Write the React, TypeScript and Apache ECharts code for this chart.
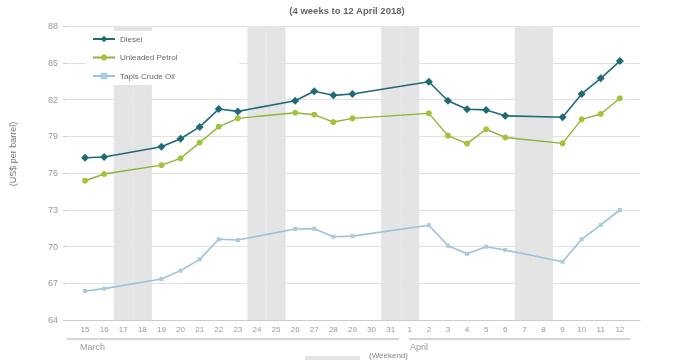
import React, { useEffect, useRef } from "react";
import * as echarts from "echarts";

const days = ["15","16","17","18","19","20","21","22","23","24","25","26","27","28","29","30","31","1","2","3","4","5","6","7","8","9","10","11","12"];
const weekendDays = ["17","18","24","25","31","1","7","8"];
const yTicks = [64, 67, 70, 73, 76, 79, 82, 85, 88];

const diesel = [77.25,77.3,null,null,78.15,78.8,79.76,81.22,81.03,null,null,81.9,82.67,82.34,82.45,null,null,null,83.45,81.9,81.2,81.15,80.67,null,null,80.55,82.45,83.73,85.14];
const unleaded = [75.37,75.92,null,null,76.64,77.2,78.48,79.78,80.46,null,null,80.92,80.76,80.16,80.46,null,null,null,80.87,79.05,78.4,79.57,78.9,null,null,78.42,80.38,80.82,82.1];
const tapis = [66.37,66.56,null,null,67.35,68.03,68.95,70.59,70.53,null,null,71.43,71.45,70.8,70.85,null,null,null,71.73,70.07,69.41,69.98,69.71,null,null,68.76,70.59,71.76,72.98];

const seriesNames = ["Diesel", "Unleaded Petrol", "Tapis Crude Oil"];
const title = "(4 weeks to 12 April 2018)";
const yAxisName = "(US$ per barrel)";
const months = ["March", "April"];

export default function App() {
  const ref = useRef<HTMLDivElement>(null);
  useEffect(() => {
    if (!ref.current) return;
    const chart = echarts.init(ref.current, null, { renderer: "svg" });
    const yMin = yTicks[0];
    const yMax = yTicks[yTicks.length - 1];
    const font = "Liberation Sans, Arial, sans-serif";
    const weekendData = days.map((d) => (weekendDays.includes(d) ? yMax : null));
    chart.setOption({
      animation: false,
      textStyle: { fontFamily: font },
      grid: [
        { left: 67, right: 45, top: 26, bottom: 40 },
        { left: 75.5, right: 55.6, top: 26, bottom: 40 },
      ],
      xAxis: [
        {
          gridIndex: 0, type: "value", min: 0, max: 1,
          axisLine: { show: true, lineStyle: { color: "#cccccc", width: 1 } },
          axisTick: { show: false }, axisLabel: { show: false }, splitLine: { show: false },
        },
        {
          gridIndex: 1, type: "category", data: days, boundaryGap: true,
          axisLine: { show: false }, axisTick: { show: false },
          axisLabel: { color: "#999999", fontSize: 8, margin: 5, interval: 0, fontFamily: font },
        },
      ],
      yAxis: [
        {
          gridIndex: 0, type: "value", min: yMin, max: yMax, interval: 3,
          axisLine: { show: false },
          axisTick: { show: true, length: 4, lineStyle: { color: "#cccccc" } },
          axisLabel: { color: "#999999", fontSize: 9, margin: 9, fontFamily: font },
          splitLine: { show: true, lineStyle: { color: "#e0e0e0", width: 1 } },
        },
        {
          gridIndex: 1, type: "value", min: yMin, max: yMax, interval: 3,
          show: false, splitLine: { show: false },
        },
      ],
      legend: {
        data: seriesNames,
        orient: "vertical", left: 86, top: 31,
        itemGap: 8.5, itemWidth: 22, itemHeight: 8,
        backgroundColor: "#ffffff",
        padding: [3, 62, 4, 6],
        textStyle: { fontSize: 8, color: "#666666", fontFamily: font, lineHeight: 10 },
      },
      series: [
        {
          name: "Weekend", type: "bar", xAxisIndex: 1, yAxisIndex: 1,
          data: weekendData, barWidth: "100%", barCategoryGap: "0%", clip: true,
          itemStyle: { color: "#e4e4e4" }, silent: true, z: 0,
        },
        {
          name: seriesNames[0], type: "line", xAxisIndex: 1, yAxisIndex: 1, data: diesel,
          connectNulls: true, symbol: "diamond", symbolSize: 8, showSymbol: true,
          lineStyle: { color: "#1e6b76", width: 1.6 }, itemStyle: { color: "#1e6b76" }, z: 5,
        },
        {
          name: seriesNames[1], type: "line", xAxisIndex: 1, yAxisIndex: 1, data: unleaded,
          connectNulls: true, symbol: "circle", symbolSize: 6, showSymbol: true,
          lineStyle: { color: "#8fb33a", width: 1.4 }, itemStyle: { color: "#a2c43a" }, z: 4,
        },
        {
          name: seriesNames[2], type: "line", xAxisIndex: 1, yAxisIndex: 1, data: tapis,
          connectNulls: true, symbol: "rect", symbolSize: 4, showSymbol: true,
          lineStyle: { color: "#9dc2d6", width: 1.6 }, itemStyle: { color: "#a9cbdd" }, z: 3,
        },
      ],
      graphic: [
        {
          type: "text", x: 347, y: 10,
          style: { text: title, fill: "#666666", font: `bold 9.5px ${font}`, align: "center", verticalAlign: "middle" },
        },
        {
          type: "text", x: 13, y: 154, rotation: Math.PI / 2,
          style: { text: yAxisName, fill: "#777777", font: `9px ${font}`, align: "center", verticalAlign: "middle" },
        },
        { type: "line", shape: { x1: 67, y1: 339, x2: 399, y2: 339 }, style: { stroke: "#aaaaaa", lineWidth: 1 } },
        { type: "line", shape: { x1: 409, y1: 339, x2: 630, y2: 339 }, style: { stroke: "#aaaaaa", lineWidth: 1 } },
        { type: "text", x: 80, y: 342, style: { text: months[0], fontSize: 9, fill: "#999999", fontFamily: font } },
        { type: "text", x: 410, y: 342, style: { text: months[1], fontSize: 9, fill: "#999999", fontFamily: font } },
        { type: "rect", shape: { x: 305, y: 356, width: 55, height: 4 }, style: { fill: "#e4e4e4" } },
        { type: "text", x: 369, y: 351, style: { text: "(Weekend)", fontSize: 8, fill: "#888888", fontFamily: font } },
      ],
    });
    return () => chart.dispose();
  }, []);
  return <div ref={ref} style={{ position: "fixed", left: 0, top: 0, width: 685, height: 360 }} />;
}
